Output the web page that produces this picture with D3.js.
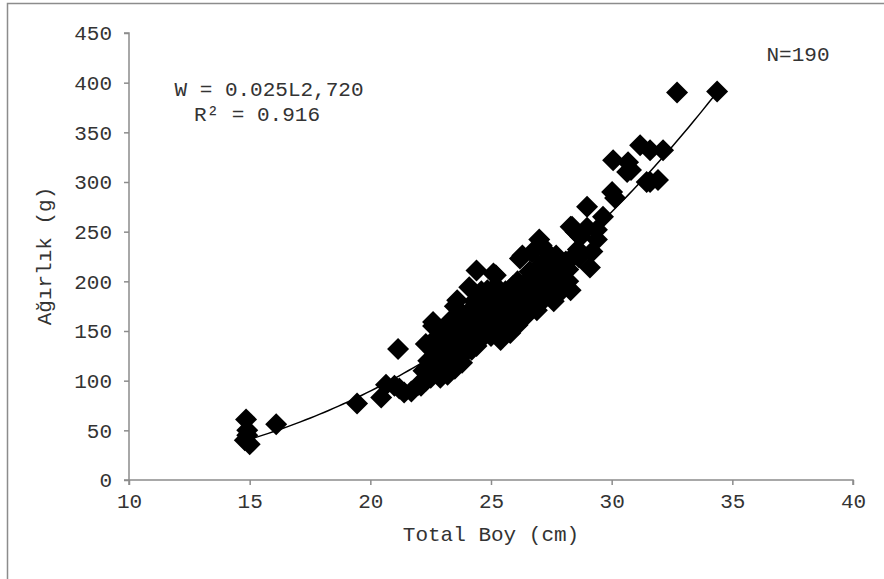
<!DOCTYPE html>
<html>
<head>
<meta charset="utf-8">
<script src="https://cdn.jsdelivr.net/npm/d3@7/dist/d3.min.js"></script>
<style>
  body { margin: 0; background: #fff; }
  svg text { font-family: "Liberation Mono", "DejaVu Sans Mono", monospace; fill: #333; }
</style>
</head>
<body>
<script>
// total length (cm)
var lengths = [
  14.8, 14.85, 14.9, 15.0, 14.9, 16.1, 19.45, 20.45, 20.65, 21.0, 21.15, 21.2, 21.4, 21.7, 22.0, 22.1, 22.3, 22.2,
  22.3, 22.4, 22.5, 22.6, 22.6, 22.7, 22.8, 22.9, 22.9, 23.0, 23.1, 23.2, 23.2, 23.3, 23.3, 23.4, 23.5, 23.5,
  23.6, 23.6, 23.7, 23.8, 23.8, 23.9, 24.0, 24.0, 24.1, 24.1, 24.2, 24.2, 24.3, 24.3, 24.4, 24.4, 24.5, 24.5,
  24.6, 24.6, 24.7, 24.7, 24.8, 24.8, 24.85, 24.9, 24.9, 25.0, 25.0, 25.0, 25.1, 25.1, 25.1, 25.2, 25.2, 25.3,
  25.3, 25.4, 25.4, 25.5, 25.5, 25.6, 25.6, 25.7, 25.7, 25.8, 25.8, 25.9, 25.9, 26.0, 26.0, 26.1, 26.1, 26.2,
  26.2, 26.3, 26.3, 26.4, 26.4, 26.5, 26.5, 26.6, 26.6, 26.7, 26.7, 26.8, 26.8, 26.9, 26.9, 27.0, 27.0, 27.0,
  27.1, 27.1, 27.2, 27.2, 27.3, 27.3, 27.4, 27.4, 27.5, 27.5, 27.6, 27.6, 27.7, 27.7, 27.8, 27.9, 27.9, 28.0,
  28.1, 28.2, 28.3, 28.36, 28.45, 28.5, 28.6, 28.65, 28.7, 28.98, 28.98, 29.1, 29.2, 29.39, 29.39, 29.64, 30.02, 30.06,
  30.14, 30.64, 30.68, 30.8, 31.18, 31.45, 31.59, 31.59, 31.92, 32.13, 32.71, 34.37,
  22.5, 23.3, 24.1, 25.4, 26.9, 28.3, 22.6, 23.6, 24.4, 25.2, 26.3, 27.0, 22.9, 23.9, 24.6, 25.3, 26.1, 26.8,
  27.6, 28.2, 23.4, 24.3, 25.0, 25.8, 26.6, 27.3, 23.0, 24.8, 26.4, 27.8
];
// weight (g)
var weights = [
  40, 61, 50, 36, 45, 56, 77, 83, 96, 95, 132, 92, 88, 89, 96, 95, 100, 110,
  137, 120, 103, 155, 130, 112, 145, 103, 125, 138, 150, 106, 120, 160, 132, 145, 175, 112,
  125, 155, 140, 165, 118, 150, 130, 160, 170, 142, 131, 155, 180, 148, 211, 165, 140, 175,
  190, 155, 160, 145, 170, 185, 191, 150, 162, 175, 155, 145, 208, 180, 165, 150, 195, 170,
  158, 185, 145, 175, 162, 151, 190, 170, 180, 160, 148, 175, 195, 165, 185, 156, 200, 175,
  223, 190, 165, 164, 180, 200, 172, 190, 210, 178, 229, 195, 185, 205, 175, 181, 215, 195,
  236, 200, 190, 220, 205, 185, 210, 195, 225, 200, 190, 215, 226, 205, 195, 215, 190, 210,
  220, 212, 255, 255, 226, 250, 232, 224, 245, 275, 254, 214, 230, 252, 242, 265, 290, 322,
  284, 310, 320, 312, 337, 300, 332, 300, 302, 332, 390, 391,
  108, 114, 194, 141, 171, 191, 159, 181, 135, 206, 226, 242, 115, 138, 150, 168, 178, 200,
  180, 200, 128, 160, 185, 170, 195, 220, 118, 158, 190, 205
];
var xTicks = [10, 15, 20, 25, 30, 35, 40];
var yTicks = [0, 50, 100, 150, 200, 250, 300, 350, 400, 450];
// power trendline W = a * L^b
var trendA = 0.0259, trendB = 2.72;
var trendRange = [15.0, 34.37];

var W = 884, H = 579;
var margin = { top: 33, right: 31, bottom: 99, left: 129 };
var width = W - margin.left - margin.right;
var height = H - margin.top - margin.bottom;

var svg = d3.select('body').append('svg')
  .attr('width', W).attr('height', H);

// outer chart border (right/bottom run off the picture)
svg.append('path')
  .attr('d', 'M7.5,' + (H + 5) + 'V3.5H' + (W + 5))
  .attr('fill', 'none').attr('stroke', '#8c8c8c').attr('stroke-width', 1.5);

var g = svg.append('g').attr('transform', 'translate(' + margin.left + ',' + margin.top + ')');

var x = d3.scaleLinear().domain([10, 40]).range([0, width]);
var y = d3.scaleLinear().domain([0, 450]).range([height, 0]);

var xAxis = g.append('g').attr('transform', 'translate(0,' + height + ')')
  .call(d3.axisBottom(x).tickValues(xTicks).tickSize(5).tickPadding(8));
var yAxis = g.append('g')
  .call(d3.axisLeft(y).tickValues(yTicks).tickSize(5).tickPadding(12));

d3.selectAll('.domain, .tick line').attr('stroke', '#8c8c8c').attr('stroke-width', 1.5);
d3.selectAll('.tick text').style('font-size', '21px').attr('fill', '#333')
  .style('font-family', '"Liberation Mono", monospace');
xAxis.selectAll('.domain').attr('d', 'M0,5V0H' + width + 'V5');
yAxis.selectAll('.domain').attr('d', 'M-5,0H0V' + height + 'H-5');

// trendline
var trendData = d3.range(0, 101).map(function (i) {
  var L = trendRange[0] + (trendRange[1] - trendRange[0]) * i / 100;
  return [L, trendA * Math.pow(L, trendB)];
});
g.append('path').datum(trendData)
  .attr('d', d3.line().x(function (d) { return x(d[0]); }).y(function (d) { return y(d[1]); }))
  .attr('fill', 'none').attr('stroke', '#000').attr('stroke-width', 1.5);

// diamonds
var s = 11;
var diamond = 'M0,' + (-s) + 'L' + s + ',0L0,' + s + 'L' + (-s) + ',0Z';
var points = lengths.map(function (L, i) { return [L, weights[i]]; });
g.selectAll('.pt').data(points).enter().append('path')
  .attr('class', 'pt')
  .attr('d', diamond)
  .attr('transform', function (d) { return 'translate(' + x(d[0]) + ',' + y(d[1]) + ')'; })
  .attr('fill', '#000');

// labels
svg.append('text').attr('x', 269).attr('y', 96).attr('text-anchor', 'middle')
  .style('font-size', '21px').text('W = 0.025L2,720');
svg.append('text').attr('x', 257).attr('y', 121).attr('text-anchor', 'middle')
  .style('font-size', '21px').text('R² = 0.916');
svg.append('text').attr('x', 798).attr('y', 61).attr('text-anchor', 'middle')
  .style('font-size', '21px').text('N=190');

svg.append('text').attr('x', margin.left + width / 2).attr('y', 541).attr('text-anchor', 'middle')
  .style('font-size', '21px').text('Total Boy (cm)');
svg.append('text').attr('transform', 'translate(51,256) rotate(-90)').attr('text-anchor', 'middle')
  .style('font-size', '21px').text('Ağırlık (g)');
</script>
</body>
</html>
